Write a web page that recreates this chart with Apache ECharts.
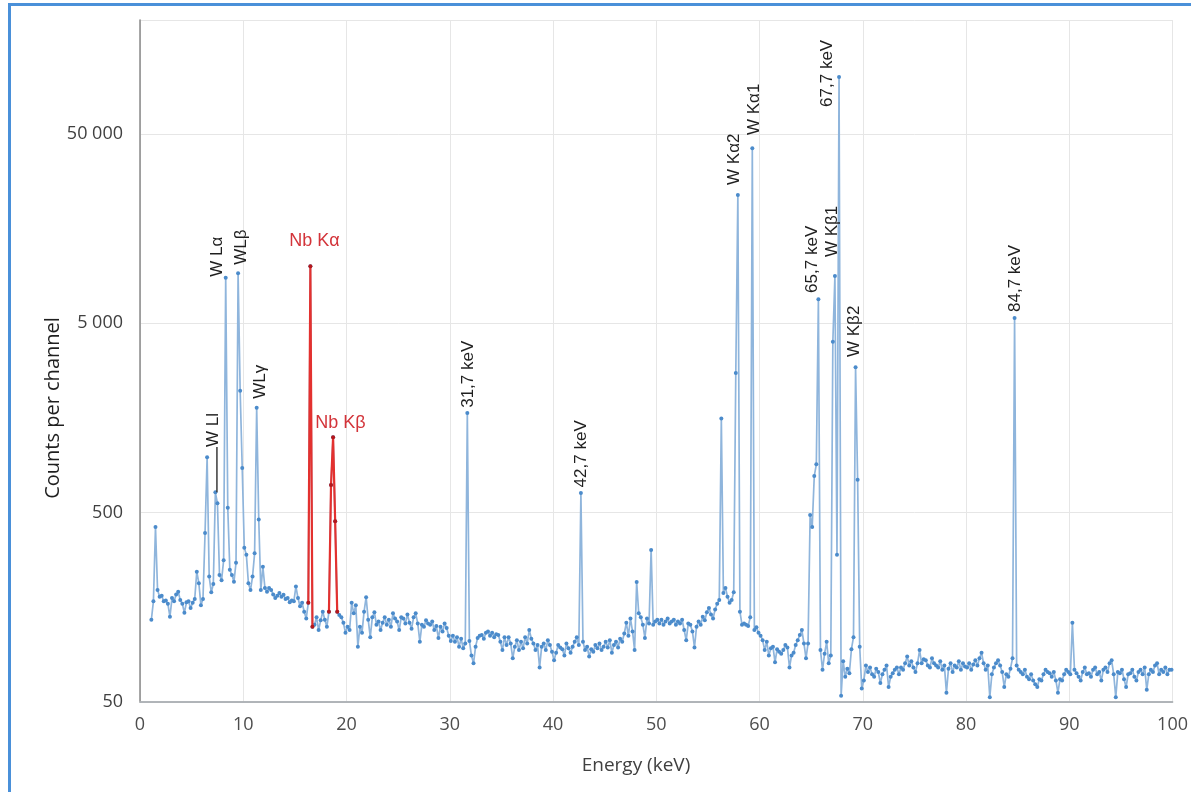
<!DOCTYPE html>
<html>
<head>
<meta charset="utf-8">
<script src="https://cdn.jsdelivr.net/npm/echarts@6/dist/echarts.min.js"></script>
<style>
html,body{margin:0;padding:0;background:#fff;}
#c{width:1191px;height:792px;}
</style>
</head>
<body>
<div id="c"></div>
<script>
// Channel calibration of the spectrum (keV)
const startEnergy = 1.1;
const channelWidth = 0.2;

// Counts per channel, 10 keV per array
const counts_01_10 = [136,170,420,195,180, 182,170,172,165,141, 177,170,185,191,173, 165,148,168,170,157, 167,175,244,212,162, 175,390,980,230,190, 210,640,560,234,220, 280,8700,530,250,234, 216,272,9200,2200,860];
const counts_10_20 = [326,300,212,195,230, 305,1790,460,195,259, 200,191,200,195,185, 177,182,188,180,184, 175,177,168,172,170, 204,177,160,167,150, 138,167,10000,125,128, 140,120,135,150,136, 125,150,700,1250,450, 150,144,140,131,116];
const counts_20_30 = [125,120,167,147,162, 98,125,116,150,179, 136,110,140,149,128, 133,120,131,140,128, 136,125,147,138,133, 120,140,138,130,145, 131,122,140,147,130, 104,128,125,135,130, 128,133,120,126,109, 125,118,130,123,112];
const counts_30_40 = [105,112,104,110,98, 108,96,102,1680,105, 88,80,98,109,112, 113,108,116,118,112, 116,110,114,113,104, 94,110,100,110,102, 85,98,106,94,104, 96,110,102,120,108, 102,94,100,76,98, 102,94,106,100,92];
const counts_40_50 = [83,91,100,97,95, 88,102,96,91,98, 104,110,100,635,104, 94,98,87,95,92, 100,96,102,94,98, 104,97,106,91,100, 104,97,108,104,115, 131,112,138,118,94, 215,147,140,128,109, 138,130,318,128,133];
const counts_50_60 = [136,130,136,128,133, 138,130,133,136,128, 133,130,136,120,106, 130,128,118,97,125, 133,128,141,135,149, 157,145,138,154,165, 173,1570,188,200,180, 167,173,190,2730,23800, 150,128,130,128,126, 140,42000,120,124,116];
const counts_60_70 = [112,106,94,104,88, 96,98,81,95,92, 90,94,100,97,76, 88,91,100,106,113, 120,102,85,102,486, 420,780,900,6700,94, 74,90,104,80,88, 4000,8900,300,100000,54, 82,68,75,71,95, 110,2930,745,98,59];
const counts_70_80 = [65,78,72,76,70, 68,75,72,63,70, 74,78,60,68,71, 74,76,70,76,74, 80,87,78,82,76, 72,80,94,80,84, 83,78,76,85,80, 78,76,82,74,78, 56,75,80,72,78, 76,82,74,80,77];
const counts_80_90 = [76,80,74,79,83, 78,85,91,80,74, 78,53,70,76,80, 83,78,72,60,70, 68,75,85,5340,78, 74,72,70,74,68, 66,70,65,62,60, 66,65,70,74,72, 71,68,72,65,56, 66,65,70,74,72];
const counts_90_100 = [70,131,74,71,68, 65,72,76,70,71, 68,74,76,70,72, 65,74,76,72,80, 83,70,53,72,71, 74,66,60,70,71, 74,68,65,72,74, 70,76,58,70,74, 72,78,80,70,74, 72,76,70,74,74];

// Niobium lines drawn in red (energy ranges, keV)
const nbKaRange = [16.3, 16.7];
const nbKbRange = [18.3, 19.1];

// Axis ticks
const xTicks = [0,10,20,30,40,50,60,70,80,90,100];
const yTickValues = [50, 500, 5000, 50000];
const yTop = 200000;

// Peak annotations: text, energy of text centre, count at text base
const peakLabels = [
  {text:'W Ll', e:7.1, c:1110, rot:true},
  {text:'W L\u03b1', e:7.5, c:8800, rot:true},
  {text:'WL\u03b2', e:9.8, c:10200, rot:true},
  {text:'WL\u03b3', e:11.7, c:2000, rot:true},
  {text:'31,7 keV', e:31.75, c:1790, rot:true},
  {text:'42,7 keV', e:42.7, c:680, rot:true},
  {text:'W K\u03b12', e:57.6, c:26900, rot:true},
  {text:'W K\u03b11', e:59.5, c:49400, rot:true},
  {text:'65,7 keV', e:65.15, c:7240, rot:true},
  {text:'W K\u03b21', e:67.0, c:11200, rot:true},
  {text:'67,7 keV', e:66.6, c:69500, rot:true},
  {text:'W K\u03b22', e:69.2, c:3320, rot:true},
  {text:'84,7 keV', e:84.8, c:5740, rot:true},
  {text:'Nb K\u03b1', e:16.9, c:13600, rot:false, red:true},
  {text:'Nb K\u03b2', e:19.4, c:1490, rot:false, red:true}
];
const leader = {e:7.45, from:1110, to:640};

// ---------- build ----------
const counts = [].concat(counts_01_10, counts_10_20, counts_20_30, counts_30_40, counts_40_50,
  counts_50_60, counts_60_70, counts_70_80, counts_80_90, counts_90_100);
const energies = counts.map((_, i) => +(startEnergy + i * channelWidth).toFixed(1));
const yFloor = yTickValues[0];
const toY = c => Math.log10(c / yFloor);
const yMax = toY(yTop);

const blueData = counts.map((c, i) => [energies[i], toY(c)]);
const inRange = (e, r) => e >= r[0] - 1e-6 && e <= r[1] + 1e-6;
const redKa = blueData.filter(d => inRange(d[0], nbKaRange));
const redKb = blueData.filter(d => inRange(d[0], nbKbRange));

const fmtNum = n => String(n).replace(/\B(?=(\d{3})+(?!\d))/g, ' ');

const chart = echarts.init(document.getElementById('c'), null, {renderer: 'canvas'});
const redSeries = data => ({
  type: 'line', data: data, xAxisIndex: 0, yAxisIndex: 0,
  symbol: 'circle', symbolSize: 4, showSymbol: true,
  lineStyle: {color: '#e3312f', width: 2.2},
  itemStyle: {color: '#b5171b'},
  z: 5, silent: true, animation: false
});

const option = {
  animation: false,
  backgroundColor: '#ffffff',
  grid: {left: 140, right: 18, top: 20, bottom: 90, containLabel: false},
  xAxis: [{
    type: 'value', min: xTicks[0], max: xTicks[xTicks.length - 1], interval: 10,
    axisLine: {show: true, onZero: false, lineStyle: {color: '#d4d4d4', width: 1.5}},
    axisTick: {show: false},
    axisLabel: {color: '#4d4d4d', fontSize: 18, fontFamily: 'Open Sans', margin: 14},
    splitLine: {show: true, lineStyle: {color: '#e6e6e6', width: 1}}
  }, {
    type: 'value', position: 'top', min: 0, max: 100,
    axisLine: {show: true, lineStyle: {color: '#a3a8ad', width: 1.5}},
    axisTick: {show: false}, axisLabel: {show: false}, splitLine: {show: false}
  }],
  yAxis: [{
    type: 'value', min: 0, max: yMax, interval: 1,
    axisLine: {show: true, onZero: false, lineStyle: {color: '#dcdcdc', width: 1}},
    axisTick: {show: false},
    axisLabel: {
      color: '#404040', fontSize: 18, fontFamily: 'Open Sans', margin: 17,
      showMaxLabel: false,
      formatter: v => fmtNum(Math.round(yFloor * Math.pow(10, v)))
    },
    splitLine: {show: true, lineStyle: {color: '#e6e6e6', width: 1}}
  }, {
    type: 'value', position: 'right', min: 0, max: yMax,
    axisLine: {show: true, lineStyle: {color: '#8a8a8a', width: 1.5}},
    axisTick: {show: false}, axisLabel: {show: false}, splitLine: {show: false}
  }],
  series: [{
    type: 'line', data: blueData, xAxisIndex: 0, yAxisIndex: 0,
    symbol: 'circle', symbolSize: 4, showSymbol: true,
    lineStyle: {color: '#8fb5dc', width: 1.7},
    itemStyle: {color: '#4b8bcb'},
    z: 3, silent: true, animation: false
  }, redSeries(redKa), redSeries(redKb)]
};
chart.setOption(option);

// Annotations placed through the axes
const px = (e, c) => chart.convertToPixel({xAxisIndex: 0, yAxisIndex: 0}, [e, toY(c)]);
const graphics = [];
peakLabels.forEach(l => {
  const p = px(l.e, l.c);
  if (l.rot) {
    graphics.push({
      type: 'text', x: p[0], y: p[1], rotation: Math.PI / 2, z: 10,
      style: {text: l.text, fill: '#1f1f1f', font: '17px "Liberation Sans", Arial, sans-serif',
        textAlign: 'left', textVerticalAlign: 'middle'}
    });
  } else {
    graphics.push({
      type: 'text', x: p[0], y: p[1], z: 10,
      style: {text: l.text, fill: '#d3343a', font: '18px "Liberation Sans", Arial, sans-serif',
        textAlign: 'center', textVerticalAlign: 'middle'}
    });
  }
});
const l1 = px(leader.e, leader.from), l2 = px(leader.e, leader.to);
graphics.push({type: 'line', z: 9, shape: {x1: l1[0], y1: l1[1], x2: l2[0], y2: l2[1]},
  style: {stroke: '#3a3a3a', lineWidth: 1.5}});
// axis titles
graphics.push({type: 'text', x: 53, y: 408, rotation: Math.PI / 2, z: 10,
  style: {text: 'Counts per channel', fill: '#1f1f1f', font: '20px "Open Sans", sans-serif',
    textAlign: 'center', textVerticalAlign: 'middle'}});
graphics.push({type: 'text', x: 636, y: 766, z: 10,
  style: {text: 'Energy (keV)', fill: '#404040', font: '19px "Open Sans", sans-serif',
    textAlign: 'center', textVerticalAlign: 'middle'}});
// blue frame of the figure
graphics.push({type: 'rect', z: 20, shape: {x: 8, y: 3, width: 1183, height: 3}, style: {fill: '#4a90d9'}});
graphics.push({type: 'rect', z: 20, shape: {x: 8, y: 3, width: 3, height: 789}, style: {fill: '#4a90d9'}});
chart.setOption({graphic: graphics});
</script>
</body>
</html>
